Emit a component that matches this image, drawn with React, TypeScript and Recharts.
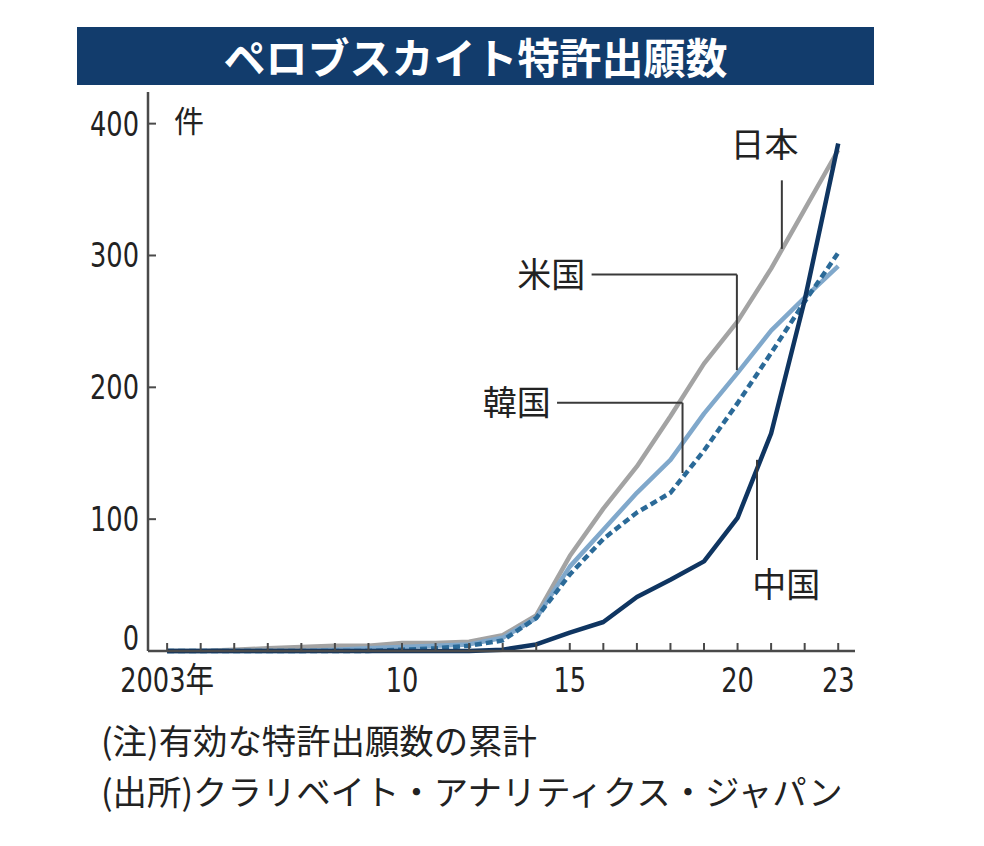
import React from "react";
import { LineChart, Line, XAxis, YAxis, ReferenceLine, ReferenceDot } from "recharts";

// cumulative patent applications, 2003–2023
const years = [2003, 2004, 2005, 2006, 2007, 2008, 2009, 2010, 2011, 2012, 2013, 2014, 2015, 2016, 2017, 2018, 2019, 2020, 2021, 2022, 2023];
const japan = [0, 0, 1, 2, 3, 4, 4, 6, 6, 7, 12, 27, 72, 108, 140, 178, 218, 250, 290, 335, 380];
const usa = [0, 0, 0, 0, 0, 1, 2, 3, 4, 5, 10, 25, 64, 92, 120, 145, 180, 211, 243, 268, 292];
const korea = [0, 0, 0, 0, 0, 0, 0, 1, 2, 4, 8, 25, 58, 85, 105, 120, 152, 188, 226, 265, 302];
const china = [0, 0, 0, 0, 0, 0, 0, 0, 0, 0, 1, 5, 14, 22, 41, 54, 68, 101, 165, 266, 385];

const xLabels: Record<number, string> = { 2003: "2003年", 2010: "10", 2015: "15", 2020: "20", 2023: "23" };
const yTicks = [0, 100, 200, 300, 400];

const data = years.map((year, i) => ({
  year,
  japan: japan[i],
  usa: usa[i],
  korea: korea[i],
  china: china[i],
}));

// series name labels and their leader lines (in data units)
const callouts = [
  { name: "日本", at: [2020.8, 384], path: [[2021.32, 357], [2021.32, 305]] },
  { name: "米国", at: [2014.45, 285.5], path: [[2015.65, 285.5], [2019.98, 285.5], [2019.98, 213]] },
  { name: "韓国", at: [2013.42, 188.3], path: [[2014.62, 188.3], [2018.36, 188.3], [2018.36, 135]] },
  { name: "中国", at: [2021.45, 50], path: [[2020.58, 145], [2020.58, 69]] },
];

const axisColor = "#4a4a4a";
const numFont = '"Liberation Sans Narrow", "DejaVu Sans Condensed", "Noto Sans CJK JP", sans-serif';
const jpFont = '"Noto Sans CJK JP", "Noto Sans", sans-serif';

// narrow number text, squeezed horizontally around its anchor
function NumText({ x, y, anchor, children }: any) {
  return (
    <g transform={`translate(${x},${y}) scale(0.84,1)`}>
      <text x={0} y={0} textAnchor={anchor} fontSize={34} fill="#222" fontFamily={numFont}>
        {children}
      </text>
    </g>
  );
}

function XTick({ x, y, payload }: any) {
  const label = xLabels[payload.value];
  return (
    <g>
      <line x1={x} y1={y} x2={x} y2={y - 8} stroke={axisColor} strokeWidth={2} />
      {label && <NumText x={x} y={y + 41} anchor="middle">{label}</NumText>}
    </g>
  );
}

function YTick({ x, y, payload }: any) {
  const v = payload.value;
  return (
    <g>
      {v > 0 && <line x1={x} y1={y} x2={x + 8} y2={y} stroke={axisColor} strokeWidth={2} />}
      <NumText x={x - 9} y={v === 0 ? y - 1 : y + 12} anchor="end">{v}</NumText>
    </g>
  );
}

export default function App() {
  return (
    <div style={{ position: "absolute", left: 0, top: 0, width: 984, height: 846, background: "#fff" }}>
      <div
        style={{
          position: "absolute", left: 77, top: 27, width: 797, height: 58,
          background: "#123c6c", color: "#fff", fontFamily: jpFont, fontWeight: 700,
          fontSize: 42, lineHeight: "58px", textAlign: "center",
        }}
      >
        ペロブスカイト特許出願数
      </div>

      <LineChart
        width={984}
        height={846}
        data={data}
        margin={{ top: 92, right: 129, bottom: 155, left: 88 }}
        style={{ position: "absolute", left: 0, top: 0 }}
      >
        <XAxis
          dataKey="year"
          type="number"
          domain={[2002.43, 2023.5]}
          ticks={years}
          interval={0}
          height={40}
          tickSize={0}
          tickMargin={0}
          tickLine={false}
          tick={<XTick />}
          axisLine={{ stroke: axisColor, strokeWidth: 2.5 }}
        />
        <YAxis
          type="number"
          domain={[0, 424]}
          ticks={yTicks}
          interval={0}
          width={60}
          tickSize={0}
          tickMargin={0}
          tickLine={false}
          tick={<YTick />}
          axisLine={{ stroke: axisColor, strokeWidth: 2.5 }}
        />

        <Line dataKey="japan" type="linear" stroke="#a3a3a3" strokeWidth={4.5} dot={false} strokeLinejoin="round" isAnimationActive={false} />
        <Line dataKey="usa" type="linear" stroke="#80a8cb" strokeWidth={4.5} dot={false} strokeLinejoin="round" isAnimationActive={false} />
        <Line dataKey="korea" type="linear" stroke="#2b6a98" strokeWidth={4.5} strokeDasharray="7 4" dot={false} isAnimationActive={false} />
        <Line dataKey="china" type="linear" stroke="#0f3561" strokeWidth={4.5} dot={false} strokeLinejoin="round" isAnimationActive={false} />

        {callouts.flatMap((c) =>
          c.path.slice(1).map((p, i) => (
            <ReferenceLine
              key={`${c.name}-${i}`}
              segment={[
                { x: c.path[i][0], y: c.path[i][1] },
                { x: p[0], y: p[1] },
              ]}
              stroke="#3a3a3a"
              strokeWidth={2}
              ifOverflow="visible"
            />
          ))
        )}
        {callouts.map((c) => (
          <ReferenceDot
            key={c.name}
            x={c.at[0]}
            y={c.at[1]}
            r={0}
            fill="none"
            stroke="none"
            ifOverflow="visible"
            label={{ value: c.name, position: "center", fontSize: 34, fill: "#222", fontFamily: jpFont }}
          />
        ))}
      </LineChart>

      <div style={{ position: "absolute", left: 174, top: 103, fontFamily: jpFont, fontSize: 30, lineHeight: "32px", color: "#222" }}>
        件
      </div>
      <div style={{ position: "absolute", left: 101, top: 719, fontFamily: jpFont, fontSize: 34.4, lineHeight: "40px", color: "#222", whiteSpace: "nowrap" }}>
        (注)有効な特許出願数の累計
      </div>
      <div style={{ position: "absolute", left: 101, top: 770, fontFamily: jpFont, fontSize: 34.4, lineHeight: "40px", color: "#222", whiteSpace: "nowrap" }}>
        (出所)クラリベイト・アナリティクス・ジャパン
      </div>
    </div>
  );
}
